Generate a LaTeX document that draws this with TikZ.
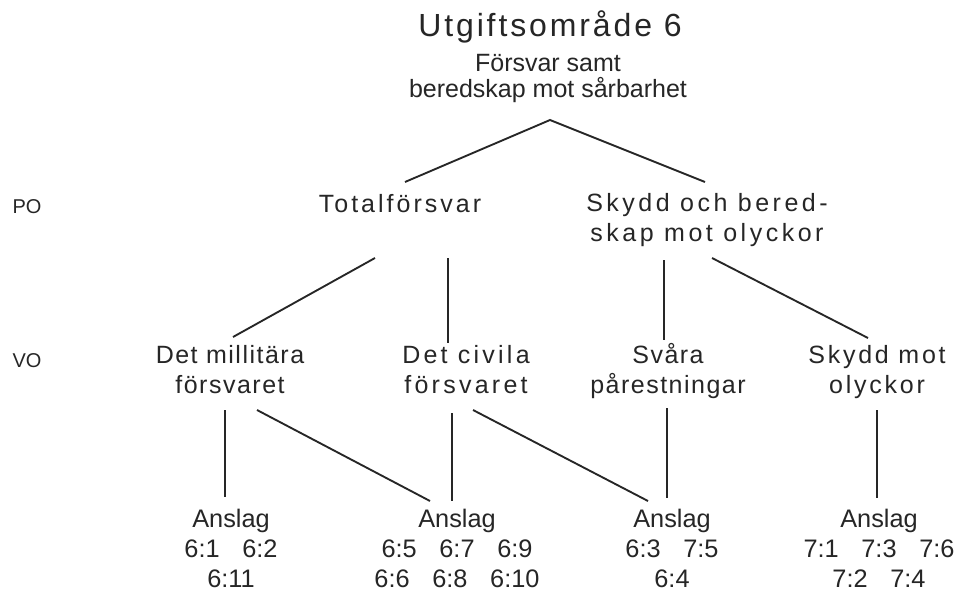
\documentclass[tikz,border=0pt]{standalone}
\usepackage{fontspec}
\setmainfont{Liberation Sans}
\usetikzlibrary{calc}
\newcommand\gp{\hspace{17pt}}
\begin{document}
\begin{tikzpicture}[x=0.75pt,y=-0.75pt,
  txt/.style={inner sep=0pt, anchor=base, align=center, text=black!85},
  ttl/.style={txt, font=\fontsize{24}{28}\selectfont\addfontfeatures{LetterSpace=9}},
  subt/.style={txt, font=\fontsize{18.75}{19.5}\selectfont},
  lvl/.style={txt, font=\fontsize{18.75}{22.5}\selectfont\addfontfeatures{LetterSpace=#1}},
  lbl/.style={txt, font=\fontsize{15}{18}\selectfont},
  ans/.style={txt, font=\fontsize{19}{22.5}\selectfont},
  conn/.style={line width=1.4pt, draw=black!85}]
\fill[white] (0,0) rectangle (959,592);
\useasboundingbox (0,0) rectangle (959,592);

% base anchor = baseline of the last line
\node[ttl] (title) at (550,37) {Utgiftsområde 6};
\node[subt] (sub) at (548,98) {Försvar samt\\beredskap mot sårbarhet};

\node[lbl] (po) at (27,213) {PO};
\node[lvl=12] (tot) at (400,212.7) {Totalförsvar};
\node[lvl=14] (sky) at (707,241.7) {Skydd och bered-\\skap mot olyckor};

\node[lbl] (vo) at (27,367) {VO};
\node[lvl=6] (mil) at (230,393) {Det millitära\\försvaret};
\node[lvl=13] (civ) at (466,393) {Det civila\\försvaret};
\node[lvl=6] (sva) at (668,393) {Svåra\\pårestningar};
\node[lvl=11] (sko) at (877,393) {Skydd mot\\olyckor};

\node[ans] (a1) at (231,587) {Anslag\\6:1\gp6:2\\6:11};
\node[ans] (a2) at (457,587) {Anslag\\6:5\gp6:7\gp6:9\\6:6\gp6:8\gp6:10};
\node[ans] (a3) at (672,587) {Anslag\\6:3\gp7:5\\6:4};
\node[ans] (a4) at (879,587) {Anslag\\7:1\gp7:3\gp7:6\\7:2\gp7:4};

\coordinate (apex) at ($(sub.base)+(2,22)$);
\draw[conn] ($(tot.base)+(5,-30.7)$) -- (apex) -- ($(sky.base)+(-2,-59.7)$);

\draw[conn] ($(tot.base)+(-25,45.3)$) -- ($(mil.base)+(3,-56)$);
\draw[conn] ($(tot.base)+(48,45.3)$) -- ($(civ.base)+(-18,-50)$);
\draw[conn] ($(sky.base)+(-43,18.3)$) -- ($(sva.base)+(-4,-53)$);
\draw[conn] ($(sky.base)+(5,16.3)$) -- ($(sko.base)+(-9,-55)$);

\draw[conn] ($(mil.base)+(-5,17)$) -- ($(a1.base)+(-6,-90)$);
\draw[conn] ($(mil.base)+(27,17)$) -- ($(a2.base)+(-27,-86)$);
\draw[conn] ($(civ.base)+(-14,20)$) -- ($(a2.base)+(-5,-86)$);
\draw[conn] ($(civ.base)+(7,17)$) -- ($(a3.base)+(-24,-86)$);
\draw[conn] ($(sva.base)+(-1,15)$) -- ($(a3.base)+(-5,-89)$);
\draw[conn] ($(sko.base)+(0,17)$) -- ($(a4.base)+(-2,-89)$);
\end{tikzpicture}
\end{document}
